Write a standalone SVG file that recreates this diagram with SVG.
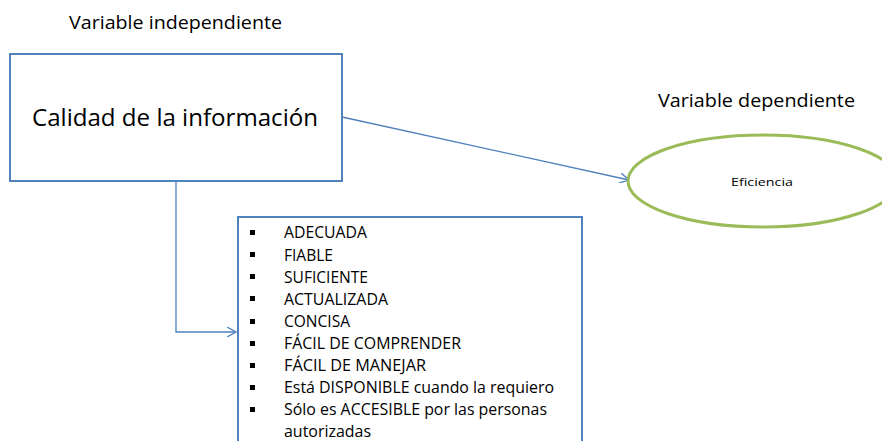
<svg xmlns="http://www.w3.org/2000/svg" width="882" height="441" viewBox="0 0 882 441">
<defs>
<style>
text{font-family:"Open Sans","Noto Sans","Liberation Sans",sans-serif;fill:#000}
.box{fill:#fff;stroke:#4F81BD;stroke-width:2}
.conn{fill:none;stroke:#4F81BD;stroke-width:1.3}
.lbl{font-size:18px}
.li{font-size:15.5px}
.bul{fill:#000}
</style>
<marker id="arr" viewBox="0 0 10 10" refX="9" refY="5" markerWidth="10" markerHeight="10" markerUnits="userSpaceOnUse" orient="auto">
<path d="M0,0 L9,5 L0,10" fill="none" stroke="#4F81BD" stroke-width="1.3"/>
</marker>
</defs>
<rect width="882" height="441" fill="#fff"/>
<g id="label-independiente"><text class="lbl" x="69" y="29" textLength="213" lengthAdjust="spacingAndGlyphs">Variable independiente</text></g>
<g id="label-dependiente"><text class="lbl" x="658" y="107" textLength="197" lengthAdjust="spacingAndGlyphs">Variable dependiente</text></g>
<g id="connectors">
<line class="conn" x1="342" y1="117" x2="629" y2="180" marker-end="url(#arr)"/>
<polyline class="conn" points="176,181 176,332 236,332" marker-end="url(#arr)"/>
</g>
<g id="calidad">
<rect class="box" x="10" y="54" width="332" height="127"/>
<text x="32" y="126" font-size="24" textLength="286" lengthAdjust="spacingAndGlyphs">Calidad de la información</text>
</g>
<g id="eficiencia">
<ellipse cx="763" cy="181" rx="135" ry="46" fill="#fff" stroke="#9BBB59" stroke-width="3"/>
<text x="731" y="186" font-size="11.5" textLength="62" lengthAdjust="spacingAndGlyphs">Eficiencia</text>
</g>
<g id="lista">
<rect class="box" x="238" y="217" width="344" height="240"/>
<g class="bul">
<rect x="250" y="230" width="5" height="5"/>
<rect x="250" y="252" width="5" height="5"/>
<rect x="250" y="274" width="5" height="5"/>
<rect x="250" y="296" width="5" height="5"/>
<rect x="250" y="319" width="5" height="5"/>
<rect x="250" y="341" width="5" height="5"/>
<rect x="250" y="363" width="5" height="5"/>
<rect x="250" y="385" width="5" height="5"/>
<rect x="250" y="407" width="5" height="5"/>
</g>
<text class="li" x="284" y="238" textLength="83" lengthAdjust="spacingAndGlyphs">ADECUADA</text>
<text class="li" x="284" y="261" textLength="49" lengthAdjust="spacingAndGlyphs">FIABLE</text>
<text class="li" x="284" y="283" textLength="84" lengthAdjust="spacingAndGlyphs">SUFICIENTE</text>
<text class="li" x="284" y="305" textLength="104" lengthAdjust="spacingAndGlyphs">ACTUALIZADA</text>
<text class="li" x="284" y="327" textLength="66" lengthAdjust="spacingAndGlyphs">CONCISA</text>
<text class="li" x="284" y="349" textLength="177" lengthAdjust="spacingAndGlyphs">FÁCIL DE COMPRENDER</text>
<text class="li" x="284" y="371" textLength="142" lengthAdjust="spacingAndGlyphs">FÁCIL DE MANEJAR</text>
<text class="li" x="284" y="393" textLength="270" lengthAdjust="spacingAndGlyphs">Está DISPONIBLE cuando la requiero</text>
<text class="li" x="284" y="415" textLength="263" lengthAdjust="spacingAndGlyphs">Sólo es ACCESIBLE por las personas</text>
<text class="li" x="284" y="437" textLength="87" lengthAdjust="spacingAndGlyphs">autorizadas</text>
</g>
</svg>
